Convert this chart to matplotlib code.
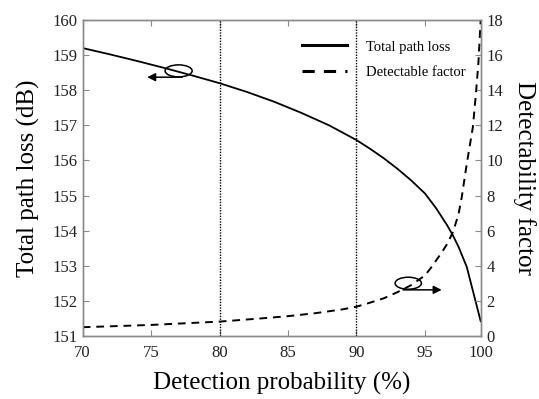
import numpy as np
import matplotlib
matplotlib.use("Agg")
import matplotlib.pyplot as plt
from matplotlib.patches import Ellipse

plt.rcParams['font.family'] = ['Liberation Serif', 'DejaVu Serif']

# Data
pd_loss = [70, 72, 74, 76, 78, 80, 82, 84, 86, 88, 90, 91, 92, 93, 94, 95, 96, 97,
           97.5, 98, 98.75, 100]
path_loss = [159.20, 159.02, 158.83, 158.63, 158.42, 158.20, 157.95, 157.67,
             157.35, 157.0, 156.58, 156.33, 156.06, 155.76, 155.43, 155.06,
             154.64, 154.15, 153.87, 153.55, 152.97, 151.42]

pd_det = [70, 75, 80, 83, 85, 87, 89, 90, 91, 92, 93, 94, 95, 95.5, 96, 96.5, 97,
          97.5, 98, 98.3, 98.75, 99.3, 99.6, 99.8, 100]
det_factor = [0.50, 0.63, 0.82, 1.0, 1.13, 1.3, 1.52, 1.67, 1.9, 2.15, 2.5, 2.9,
              3.45, 3.85, 4.3, 4.75, 5.25, 5.9, 6.9, 7.9, 9.8, 11.9, 14.0, 15.6,
              18.0]

vlines = [80, 90]
x_ticks = [70, 75, 80, 85, 90, 95, 100]
left_ticks = list(range(151, 161))
right_ticks = list(range(0, 19, 2))

# x axis in the reference is compressed between 95 and 100
K = 55.7 / 68.4


def fwd(x):
    x = np.asarray(x, dtype=float)
    return np.where(x <= 95, x, 95 + (x - 95) * K)


def inv(y):
    y = np.asarray(y, dtype=float)
    return np.where(y <= 95, y, 95 + (y - 95) / K)


spine_c = '#8a8a8a'
fig = plt.figure(figsize=(5.39, 3.99), dpi=100)
ax = fig.add_axes([0.1534, 0.1579, 0.8918 - 0.1534, 0.9499 - 0.1579])
ax.set_xscale('function', functions=(fwd, inv))

l1, = ax.plot(pd_loss, path_loss, color='black', lw=1.3, label='Total path loss')
for v in vlines:
    ax.axvline(v, color='black', lw=1.0, ls=(0, (1, 1)))
ax.set_xlim(70, 100)
ax.set_ylim(151, 160)
ax.set_xticks(x_ticks)
ax.set_xticklabels([str(t) for t in x_ticks])
ax.set_yticks(left_ticks)

ax2 = ax.twinx()
l2, = ax2.plot(pd_det, det_factor, color='black', lw=1.4, ls=(0, (4, 3)),
               label='Detectable factor')
ax2.set_ylim(0, 18)
ax2.set_yticks(right_ticks)

for a in (ax, ax2):
    for s in a.spines.values():
        s.set_color(spine_c)
        s.set_linewidth(1.0)
ax.tick_params(axis='x', direction='in', top=True, length=4, color=spine_c,
               labelsize=12, labelcolor='#222222', pad=6.5)
ax.tick_params(axis='y', direction='in', right=False, length=4, color=spine_c,
               labelsize=12, labelcolor='#222222', pad=4)
ax2.tick_params(axis='y', direction='in', length=4, color=spine_c,
                labelsize=12, labelcolor='#222222', pad=4)

ax.set_xlabel('Detection probability (%)', fontsize=18, labelpad=8)
ax.set_ylabel('Total path loss (dB)', fontsize=18, labelpad=9)
ax2.set_ylabel('Detectability factor', fontsize=18, rotation=270, labelpad=24)

leg = ax2.legend(handles=[l1, l2], loc='upper left', bbox_to_anchor=(0.536, 0.954),
                 frameon=False, fontsize=10.5, handlelength=3.1, handletextpad=1.3,
                 labelspacing=0.85, borderaxespad=0)
for ln in leg.get_lines():
    ln.set_linewidth(2.2)

# Ellipses and arrows marking which axis each curve belongs to
ax2.add_patch(Ellipse((0.241, 0.839), 0.068, 0.038, transform=ax2.transAxes,
                      fill=False, ec='black', lw=1.1, zorder=5))
ax2.annotate('', xy=(0.162, 0.819), xytext=(0.25, 0.819), xycoords='axes fraction',
             arrowprops=dict(arrowstyle='-|>', color='black', lw=1.1,
                             mutation_scale=12, shrinkA=0, shrinkB=0))
ax2.add_patch(Ellipse((0.818, 0.167), 0.066, 0.038, transform=ax2.transAxes,
                      fill=False, ec='black', lw=1.1, zorder=5))
ax2.annotate('', xy=(0.902, 0.146), xytext=(0.805, 0.146), xycoords='axes fraction',
             arrowprops=dict(arrowstyle='-|>', color='black', lw=1.1,
                             mutation_scale=12, shrinkA=0, shrinkB=0))

fig.savefig('out.png', dpi=100)
